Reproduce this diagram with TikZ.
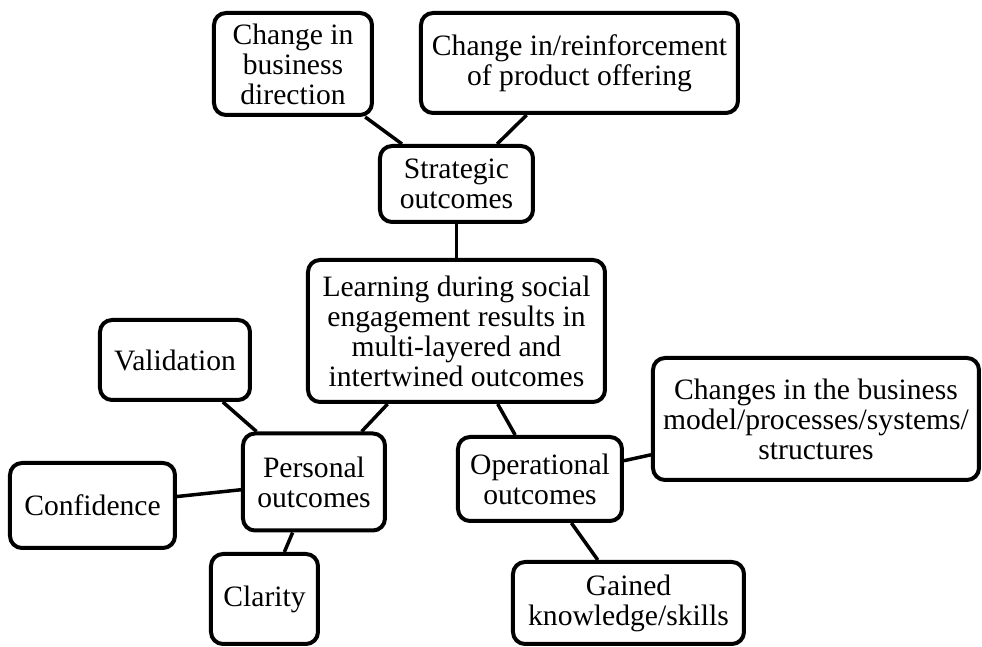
\documentclass[tikz,border=0pt]{standalone}
\usepackage{fontspec}
\setmainfont{Liberation Serif}
\usepackage{tikz}
\usetikzlibrary{positioning}

\begin{document}
\begin{tikzpicture}[auto ,on grid ,line width=1.75pt ,outcome/.style ={ rectangle ,rounded corners=6pt , draw , line width=2pt , align=center , inner sep=0pt , font=\fontsize{14.8}{15}\selectfont}]
\useasboundingbox (-228.25pt,-158pt) rectangle (262.75pt,165.5pt);
\node[outcome, minimum width=148.5pt, minimum height=71pt] (learn) {Learning during social\\engagement results in\\multi-layered and\\intertwined outcomes};
\node[outcome, minimum width=76.5pt, minimum height=38pt] (strat) [above = 73.5pt of learn] {Strategic\\outcomes};
\node[outcome, minimum width=79pt, minimum height=51pt] (cbd) [above left = 60pt and 81.75pt of strat] {Change in\\business\\direction};
\node[outcome, minimum width=158.5pt, minimum height=50pt] (prod) [above right = 60.5pt and 61.5pt of strat] {Change in/reinforcement\\of product offering};
\node[outcome, minimum width=71pt, minimum height=48.5pt] (pers) [below left = 75.5pt and 71.25pt of learn] {Personal\\outcomes};
\node[outcome, minimum width=75pt, minimum height=40pt] (valid) [above left = 61pt and 69.5pt of pers] {Validation};
\node[outcome, minimum width=82.5pt, minimum height=42.5pt] (conf) [below left = 11.75pt and 110.75pt of pers] {Confidence};
\node[outcome, minimum width=53.5pt, minimum height=45pt] (clar) [below left = 58.5pt and 24.75pt of pers] {Clarity};
\node[outcome, minimum width=82pt, minimum height=42pt] (oper) [below right = 74pt and 41.75pt of learn] {Operational\\outcomes};
\node[outcome, minimum width=163pt, minimum height=61pt] (chg) [above right = 30pt and 138pt of oper] {Changes in the business\\model/processes/systems/\\structures};
\node[outcome, minimum width=115.5pt, minimum height=41pt] (gain) [below right = 62pt and 44.25pt of oper] {Gained\\knowledge/skills};
\path (cbd) edge (strat);
\path (prod) edge (strat);
\path (strat) edge (learn);
\path (learn) edge (pers);
\path (learn) edge (oper);
\path (valid) edge (pers);
\path (conf) edge (pers);
\path (pers) edge (clar);
\path (oper) edge (chg);
\path (oper) edge (gain);
\end{tikzpicture}
\end{document}
